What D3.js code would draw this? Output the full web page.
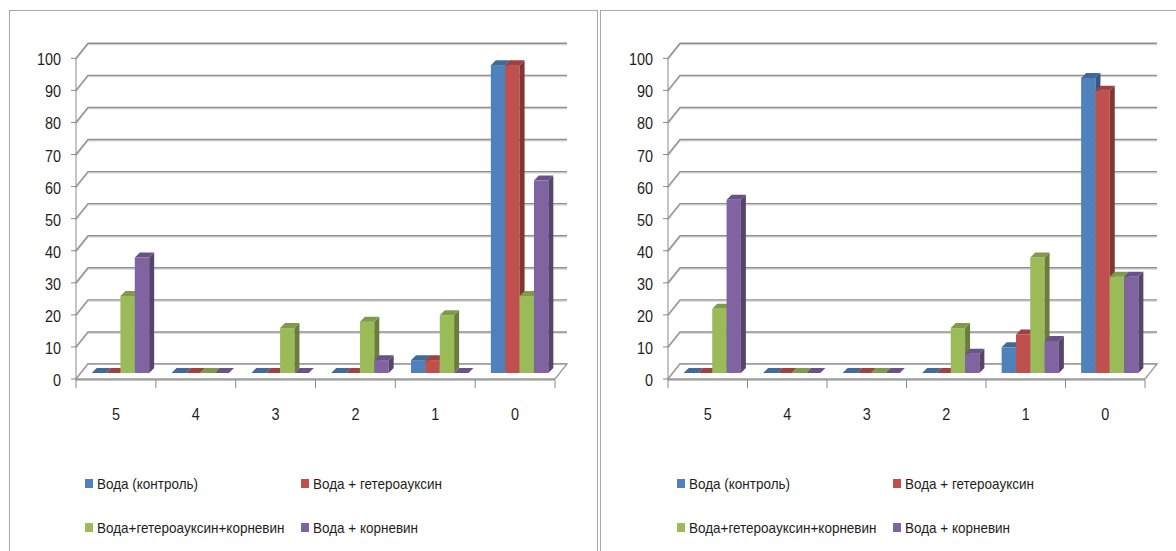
<!DOCTYPE html>
<html>
<head>
<meta charset="utf-8">
<script src="https://cdn.jsdelivr.net/npm/d3@7"></script>
<style>
  html, body { margin: 0; padding: 0; background: #fff; }
  svg { display: block; }
</style>
</head>
<body>
<svg id="chart" width="1176" height="551"></svg>
<script>
// Categories (score classes) along the x axis
const categories = ["5", "4", "3", "2", "1", "0"];
const seriesNames = ["Вода (контроль)", "Вода + гетероауксин", "Вода+гетероауксин+корневин", "Вода + корневин"];
const seriesColors = ["#4F81BD", "#C0504D", "#9BBB59", "#8064A2"];
const yTicks = [0, 10, 20, 30, 40, 50, 60, 70, 80, 90, 100];

// Left panel, values per category (%)
const leftControl        = [0, 0, 0, 0, 4, 96];
const leftHetero         = [0, 0, 0, 0, 4, 96];
const leftHeteroKornevin = [24, 0, 14, 16, 18, 24];
const leftKornevin       = [36, 0, 0, 4, 0, 60];

// Right panel, values per category (%)
const rightControl        = [0, 0, 0, 0, 8, 92];
const rightHetero         = [0, 0, 0, 0, 12, 88];
const rightHeteroKornevin = [20, 0, 0, 14, 36, 30];
const rightKornevin       = [54, 0, 0, 6, 10, 30];

const svg = d3.select("#chart");
const FONT = "'Liberation Sans', Arial, sans-serif";
const SX = 0.9;          // horizontal squeeze of the lettering
const TEXT = "#1e1e1e";

// oblique "3-D" offsets
const WALL = { dx: 12, dy: -15 };   // back wall relative to front plane
const BAR = { dx: 4.5, dy: -6 };    // front face of the columns
const DEPTH = { dx: 5, dy: -5 };    // thickness of a column

function label(g, x, y, text, anchor, size) {
  return g.append("text")
    .attr("transform", `translate(${x},${y}) scale(${SX},1)`)
    .attr("text-anchor", anchor)
    .attr("font-family", FONT)
    .attr("font-size", size)
    .attr("fill", TEXT)
    .text(text);
}

function drawPanel(frameX, axisX, plotW, seriesValues) {
  const g = svg.append("g");

  // chart area frame
  g.append("rect")
    .attr("x", frameX).attr("y", 10.5)
    .attr("width", 588).attr("height", 600)
    .attr("fill", "#fff")
    .attr("stroke", "#a8a8a8").attr("stroke-width", 1);

  const x = d3.scaleBand().domain(categories).range([axisX, axisX + plotW]).padding(0);
  const y = d3.scaleLinear().domain([0, 100]).range([379, 58.3]);
  const x1 = d3.scaleBand().domain(d3.range(seriesValues.length))
    .range([0, x.bandwidth() * 0.72]).padding(0);
  const clusterOff = x.bandwidth() * 0.14;

  // back-wall gridlines with their side-wall diagonals
  const grid = g.append("g");
  yTicks.forEach(t => {
    const yf = y(t), yb = y(t) + WALL.dy;
    const path = `M${axisX},${yf}L${axisX + WALL.dx},${yb}H${axisX + plotW + WALL.dx}`;
    grid.append("path").attr("d", path).attr("fill", "none")
      .attr("stroke", "#d4d4d4").attr("stroke-width", 1.2)
      .attr("transform", "translate(0,1.3)");
    grid.append("path").attr("d", path).attr("fill", "none")
      .attr("stroke", "#8f8f8f").attr("stroke-width", 1.4);
  });

  // floor
  const y0 = y(0);
  g.append("path")
    .attr("d", `M${axisX},${y0}L${axisX + WALL.dx},${y0 + WALL.dy}H${axisX + plotW + WALL.dx}L${axisX + plotW},${y0}Z`)
    .attr("fill", "#fff").attr("stroke", "#9a9a9a").attr("stroke-width", 1.3);

  // columns
  const bars = g.append("g");
  categories.forEach((c, ci) => {
    seriesValues.forEach((vals, si) => {
      const v = vals[ci];
      const col = d3.color(seriesColors[si]);
      const bx = x(c) + clusterOff + BAR.dx + x1(si);
      const bw = x1.bandwidth();
      const yt = y(v) + BAR.dy;
      const yb = y(0) + BAR.dy;
      // front face
      bars.append("rect").attr("x", bx).attr("y", yt)
        .attr("width", bw).attr("height", Math.max(0, yb - yt))
        .attr("fill", col.formatHex());
      // side face
      bars.append("path")
        .attr("d", `M${bx + bw},${yt}L${bx + bw + DEPTH.dx},${yt + DEPTH.dy}L${bx + bw + DEPTH.dx},${yb + DEPTH.dy}L${bx + bw},${yb}Z`)
        .attr("fill", col.darker(1.1).formatHex());
      // top face
      bars.append("path")
        .attr("d", `M${bx},${yt}L${bx + bw},${yt}L${bx + bw + DEPTH.dx},${yt + DEPTH.dy}L${bx + DEPTH.dx},${yt + DEPTH.dy}Z`)
        .attr("fill", col.darker(0.55).formatHex());
    });
  });

  // value axis
  const ax = g.append("g").attr("stroke", "#8a8a8a").attr("stroke-width", 1);
  ax.append("line").attr("x1", axisX).attr("x2", axisX).attr("y1", y(100)).attr("y2", y(0));
  yTicks.forEach(t => {
    ax.append("line").attr("x1", axisX - 5).attr("x2", axisX).attr("y1", y(t)).attr("y2", y(t));
    label(g, axisX - 15, y(t) + 7, String(t), "end", 16);
  });

  // category axis
  const cx = g.append("g").attr("stroke", "#8a8a8a").attr("stroke-width", 1);
  cx.append("line").attr("x1", axisX).attr("x2", axisX + plotW).attr("y1", y0 + 1).attr("y2", y0 + 1);
  categories.concat([null]).forEach((c, i) => {
    const xx = c === null ? axisX + plotW : x(c);
    cx.append("line").attr("x1", xx).attr("x2", xx).attr("y1", y0 + 1).attr("y2", y0 + 9);
  });
  categories.forEach(c => {
    label(g, x(c) + x.bandwidth() / 2, 420, c, "middle", 16);
  });

  // legend (two rows, two columns)
  const legendPos = [[9, 479], [225, 479], [9, 523], [225, 523]];
  seriesNames.forEach((name, i) => {
    const [lx, ly] = legendPos[i];
    g.append("rect").attr("x", axisX + lx).attr("y", ly)
      .attr("width", 8).attr("height", 9).attr("fill", seriesColors[i]);
    label(g, axisX + lx + 12, ly + 10, name, "start", 15);
  });
}

drawPanel(9.5, 76, 479, [leftControl, leftHetero, leftHeteroKornevin, leftKornevin]);
drawPanel(600.5, 668, 477, [rightControl, rightHetero, rightHeteroKornevin, rightKornevin]);
</script>
</body>
</html>
